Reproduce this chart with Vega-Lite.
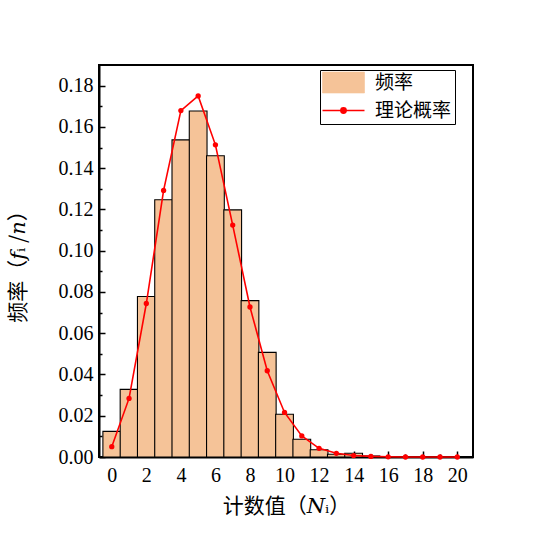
{
  "$schema": "https://vega.github.io/schema/vega-lite/v6.json",
  "autosize": "none",
  "width": 374,
  "height": 392,
  "padding": {"left": 99, "top": 65, "right": 79, "bottom": 94},
  "background": "white",
  "datasets": {
    "hist": [
      {"N": 0, "freq": 0.0124}, {"N": 1, "freq": 0.0328}, {"N": 2, "freq": 0.0778},
      {"N": 3, "freq": 0.1247}, {"N": 4, "freq": 0.1537}, {"N": 5, "freq": 0.1677},
      {"N": 6, "freq": 0.146}, {"N": 7, "freq": 0.1198}, {"N": 8, "freq": 0.0758},
      {"N": 9, "freq": 0.0507}, {"N": 10, "freq": 0.0207}, {"N": 11, "freq": 0.0086},
      {"N": 12, "freq": 0.0035}, {"N": 13, "freq": 0.0013}, {"N": 14, "freq": 0.0018},
      {"N": 15, "freq": 0.0005}
    ],
    "theory": [
      {"N": 0, "p": 0.005}, {"N": 1, "p": 0.0284}, {"N": 2, "p": 0.0744},
      {"N": 3, "p": 0.1292}, {"N": 4, "p": 0.1679}, {"N": 5, "p": 0.175},
      {"N": 6, "p": 0.1513}, {"N": 7, "p": 0.1124}, {"N": 8, "p": 0.0727},
      {"N": 9, "p": 0.0418}, {"N": 10, "p": 0.0216}, {"N": 11, "p": 0.0102},
      {"N": 12, "p": 0.0042}, {"N": 13, "p": 0.0018}, {"N": 14, "p": 0.0007},
      {"N": 15, "p": 0.0003}, {"N": 16, "p": 0.0001}, {"N": 17, "p": 0},
      {"N": 18, "p": 0}, {"N": 19, "p": 0}, {"N": 20, "p": 0}
    ]
  },
  "encoding": {
    "x": {
      "type": "quantitative",
      "scale": {"domain": [-0.45, 20.62], "nice": false, "zero": false},
      "axis": {
        "title": "计数值（𝑁ᵢ）",
        "values": [0, 1, 2, 3, 4, 5, 6, 7, 8, 9, 10, 11, 12, 13, 14, 15, 16, 17, 18, 19, 20],
        "labelExpr": "datum.value % 2 == 0 ? datum.label : ''",
        "tickSize": {"condition": {"test": "datum.value % 2 == 0", "value": -6}, "value": -3},
        "labelPadding": 14
      }
    },
    "y": {
      "type": "quantitative",
      "scale": {"domain": [0, 0.19], "nice": false},
      "axis": {
        "title": "频率（𝑓ᵢ /𝑛）",
        "values": [0, 0.01, 0.02, 0.03, 0.04, 0.05, 0.06, 0.07, 0.08, 0.09, 0.1, 0.11, 0.12, 0.13, 0.14, 0.15, 0.16, 0.17, 0.18],
        "format": ".2f",
        "labelExpr": "round(datum.value * 100) % 2 == 0 ? datum.label : ''",
        "tickSize": {"condition": {"test": "round(datum.value * 100) % 2 == 0", "value": -6}, "value": -3},
        "labelPadding": 12
      }
    },
    "color": {
      "legend": {
        "encode": {
          "symbols": {
            "update": {
              "shape": {"signal": "datum.value === '频率' ? 'M-2,-1H2V1H-2Z' : 'M-2,0H2M0.25,0A0.25,0.25,0,1,1,-0.25,0A0.25,0.25,0,1,1,0.25,0'"},
              "fill": {"signal": "datum.value === '频率' ? '#F5C398' : '#FF0000'"},
              "stroke": {"signal": "datum.value === '频率' ? '#9a7a60' : '#FF0000'"},
              "strokeWidth": {"signal": "datum.value === '频率' ? 0.6 : 1.6"},
              "opacity": {"value": 1},
              "fillOpacity": {"value": 1}
            }
          }
        }
      }
    }
  },
  "layer": [
    {
      "data": {"name": "hist"},
      "mark": {"type": "bar", "width": 17.75, "stroke": "black", "strokeWidth": 1.1, "opacity": 1},
      "encoding": {
        "x": {"field": "N"},
        "y": {"field": "freq"},
        "color": {"datum": "频率"}
      }
    },
    {
      "data": {"name": "theory"},
      "mark": {"type": "line", "strokeWidth": 1.6, "point": {"filled": true, "size": 28}},
      "encoding": {
        "x": {"field": "N"},
        "y": {"field": "p"},
        "color": {"datum": "理论概率"}
      }
    }
  ],
  "resolve": {"scale": {"color": "shared"}},
  "config": {
    "view": {"stroke": "black", "strokeWidth": 2},
    "range": {"category": ["#F5C398", "#FF0000"]},
    "axis": {
      "grid": false,
      "domainColor": "black",
      "domainWidth": 2,
      "tickColor": "black",
      "tickWidth": 1.5,
      "labelFont": "Liberation Serif",
      "labelFontSize": 20,
      "labelColor": "black",
      "titleFont": "Noto Sans CJK SC, DejaVu Serif",
      "titleFontSize": 21,
      "titleFontWeight": "normal",
      "titleColor": "black"
    },
    "axisX": {"labelAngle": 0, "titlePadding": 10},
    "axisY": {"titlePadding": 30},
    "legend": {
      "title": null,
      "orient": "none",
      "legendX": 221,
      "legendY": 5,
      "strokeColor": "black",
      "strokeWidth": 1,
      "padding": 3,
      "symbolSize": 441,
      "symbolOffset": 11,
      "labelOffset": 22,
      "labelFont": "Noto Sans CJK SC",
      "labelFontSize": 19,
      "labelColor": "black",
      "rowPadding": 6
    }
  }
}
